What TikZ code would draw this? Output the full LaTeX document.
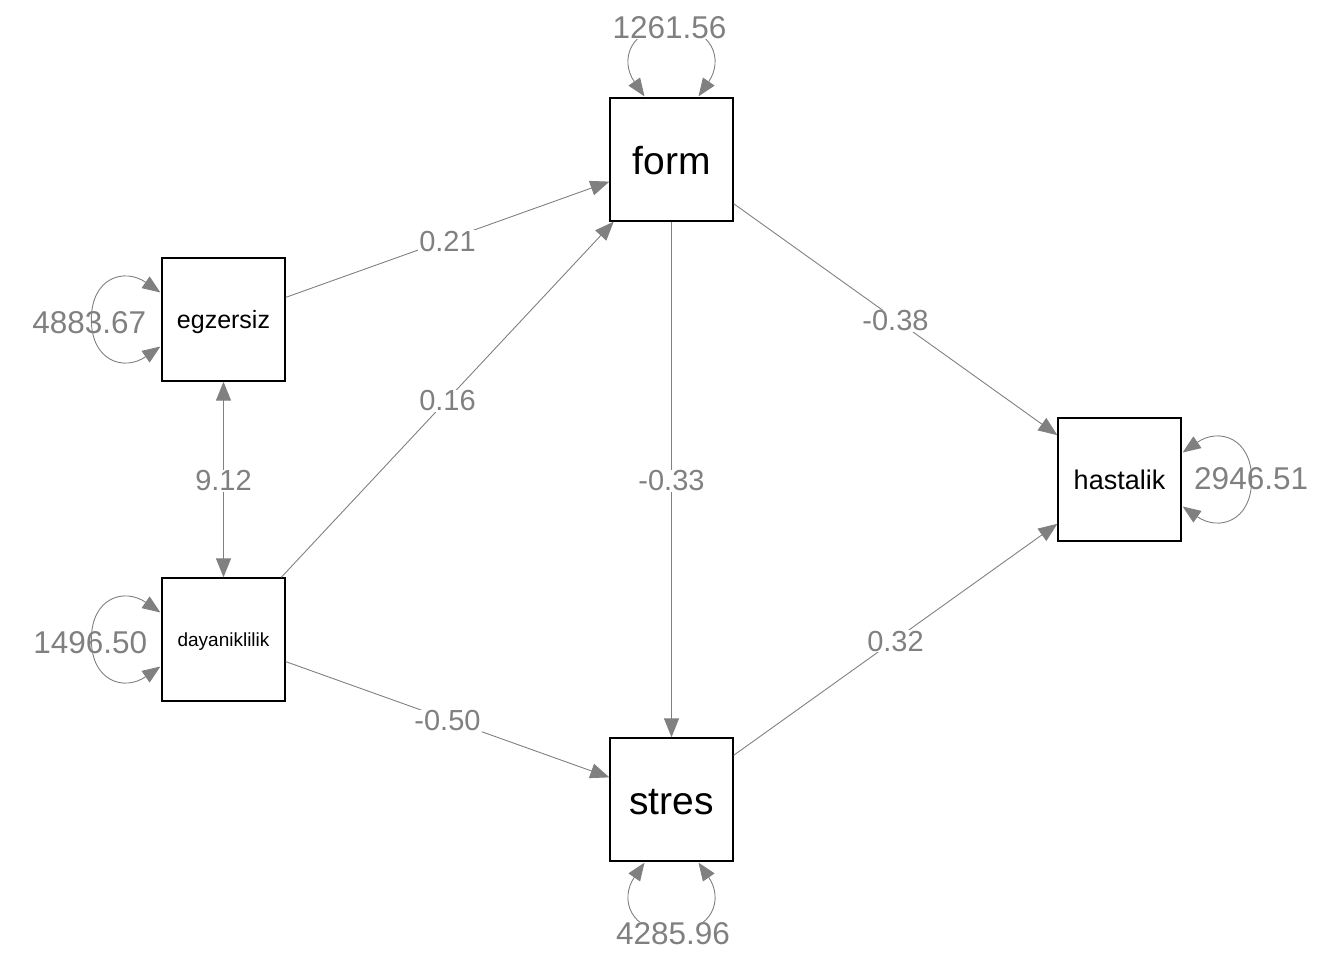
\documentclass[tikz,border=0pt]{standalone}
\usepackage{fontspec}
\setmainfont{Liberation Sans}
\usetikzlibrary{arrows.meta,calc}
\definecolor{edgegray}{RGB}{128,128,128}
\begin{document}
\begin{tikzpicture}[x=1pt,y=-1pt,
  var/.style={draw=black, line width=1.3pt, minimum size=123pt, inner sep=0pt, fill=white, text depth=0pt},
  reg/.style={draw=edgegray, line width=0.9pt, -{Triangle[length=19pt,width=15pt]}},
  cov/.style={draw=edgegray, line width=0.9pt, {Triangle[length=19pt,width=15pt]}-{Triangle[length=19pt,width=15pt]}},
  coef/.style={fill=white, inner sep=1pt, text=edgegray, yshift=-1.5pt, font=\fontsize{29}{29}\selectfont},
  resid/.style={draw=edgegray, line width=0.9pt, {Triangle[length=18pt,width=14pt]}-{Triangle[length=18pt,width=14pt]}},
  residlab/.style={text=edgegray, inner sep=0pt, font=\fontsize{31.5}{31.5}\selectfont},
  blanklab/.style={residlab, fill=white, inner sep=0.5pt}
]
\useasboundingbox (0,0) rectangle (1344,960);

% observed variables
\node[var, font=\fontsize{39}{39}\selectfont, text height=30pt] (form)  at (671.5,159.5) {form};
\node[var, font=\fontsize{25}{25}\selectfont] (egz)   at (223.5,319.5) {egzersiz};
\node[var, font=\fontsize{19}{19}\selectfont] (dayan) at (223.5,639.5) {dayaniklilik};
\node[var, font=\fontsize{39}{39}\selectfont, text height=30pt] (stres) at (671.5,799.5) {stres};
\node[var, font=\fontsize{27}{27}\selectfont] (hast)  at (1119.5,479.5) {hastalik};

% regression paths
\draw[reg] (egz)   -- node[coef] {0.21}  (form);
\draw[reg] (dayan) -- node[coef] {0.16}  (form);
\draw[reg] (form)  -- node[coef] {-0.33} (stres);
\draw[reg] (form)  -- node[coef] {-0.38} (hast);
\draw[reg] (dayan) -- node[coef] {-0.50} (stres);
\draw[reg] (stres) -- node[coef] {0.32}  (hast);

% covariance
\draw[cov] (egz) -- node[coef] {9.12} (dayan);

% residual variance loops
\begin{scope}[shift={(egz.west)}]
  \draw[resid] (-1,-27) .. controls (-37,-52) and (-70,-42) .. (-70,0)
    .. controls (-70,42) and (-37,52) .. (-1,27);
\end{scope}
\begin{scope}[shift={(dayan.west)}]
  \draw[resid] (-1,-27) .. controls (-37,-52) and (-70,-42) .. (-70,0)
    .. controls (-70,42) and (-37,52) .. (-1,27);
\end{scope}
\begin{scope}[shift={(hast.east)}, rotate=180]
  \draw[resid] (-1,-27) .. controls (-37,-52) and (-70,-42) .. (-70,0)
    .. controls (-70,42) and (-37,52) .. (-1,27);
\end{scope}
\begin{scope}[shift={(form.north)}, rotate=-90]
  \draw[resid] (-1,-27) .. controls (-37,-52) and (-70,-42) .. (-70,0)
    .. controls (-70,42) and (-37,52) .. (-1,27);
\end{scope}
\begin{scope}[shift={(stres.south)}, rotate=90]
  \draw[resid] (-1,-27) .. controls (-37,-52) and (-70,-42) .. (-70,0)
    .. controls (-70,42) and (-37,52) .. (-1,27);
\end{scope}

% residual variance values
\node[residlab] (vegz)   at ($(egz.west)+(-72,3.5)$)   {4883.67};
\node[residlab] (vdayan) at ($(dayan.west)+(-71,3.5)$) {1496.50};
\node[residlab] (vhast)  at ($(hast.east)+(69.5,-1)$)  {2946.51};
\node[blanklab] (vform)  at ($(form.north)+(-2,-70)$)  {1261.56};
\node[blanklab] (vstres) at ($(stres.south)+(1.5,72)$) {4285.96};
\end{tikzpicture}
\end{document}
